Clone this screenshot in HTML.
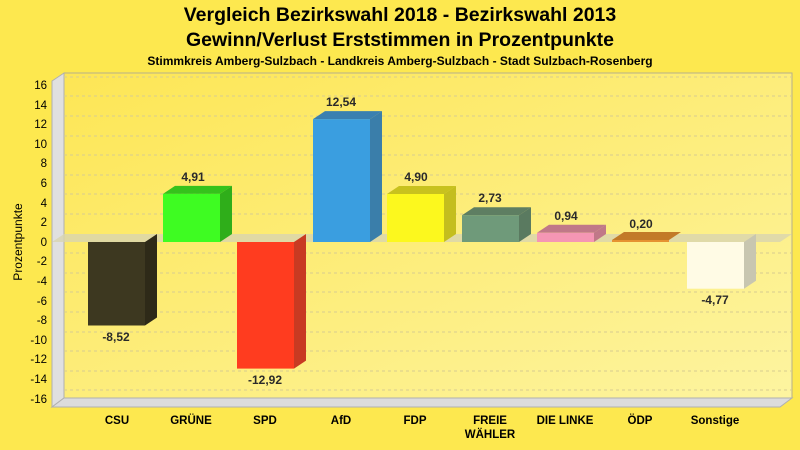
<!DOCTYPE html>
<html><head><meta charset="utf-8"><style>
body{margin:0;background:#fde84f}
svg{display:block;font-family:"Liberation Sans",sans-serif}
</style></head><body>
<svg width="800" height="450" viewBox="0 0 800 450" xmlns="http://www.w3.org/2000/svg">
<defs>
<linearGradient id="bg" x1="0" y1="0" x2="1" y2="1">
<stop offset="0" stop-color="#fde655"/><stop offset="1" stop-color="#fdf4a0"/>
</linearGradient>
</defs>
<rect width="800" height="450" fill="#fde84f"/>
<text x="400" y="21" font-size="19.5" font-weight="bold" text-anchor="middle">Vergleich Bezirkswahl 2018 - Bezirkswahl 2013</text>
<text x="400" y="46" font-size="19.5" font-weight="bold" text-anchor="middle">Gewinn/Verlust Erststimmen in Prozentpunkte</text>
<text x="400" y="65" font-size="12" font-weight="bold" text-anchor="middle">Stimmkreis Amberg-Sulzbach - Landkreis Amberg-Sulzbach - Stadt Sulzbach-Rosenberg</text>
<rect x="64" y="73" width="728" height="325" fill="url(#bg)" stroke="#b8b08a" stroke-width="1"/>
<polygon points="52,81 64,73 64,398 52,407" fill="#e0e0e0" stroke="#b0b0b0"/>
<polygon points="52,407 64,398 792,398 780,407" fill="#dcdcdc" stroke="#b0b0b0"/>
<g stroke="#d8cc90" stroke-dasharray="3,3" stroke-width="1">
<line x1="64" y1="77" x2="792" y2="77"/><line x1="64" y1="96" x2="792" y2="96"/><line x1="64" y1="116" x2="792" y2="116"/><line x1="64" y1="136" x2="792" y2="136"/><line x1="64" y1="155" x2="792" y2="155"/><line x1="64" y1="175" x2="792" y2="175"/><line x1="64" y1="194" x2="792" y2="194"/><line x1="64" y1="214" x2="792" y2="214"/><line x1="64" y1="253" x2="792" y2="253"/><line x1="64" y1="273" x2="792" y2="273"/><line x1="64" y1="292" x2="792" y2="292"/><line x1="64" y1="312" x2="792" y2="312"/><line x1="64" y1="332" x2="792" y2="332"/><line x1="64" y1="351" x2="792" y2="351"/><line x1="64" y1="371" x2="792" y2="371"/><line x1="64" y1="390" x2="792" y2="390"/>
</g>
<polygon points="52,242 64,234 792,234 780,242" fill="#d8d4b0" opacity="0.8"/>
<g font-size="11.5" text-anchor="end" fill="#000">
<text x="47" y="89">16</text><text x="47" y="109">14</text><text x="47" y="128">12</text><text x="47" y="148">10</text><text x="47" y="167">8</text><text x="47" y="187">6</text><text x="47" y="207">4</text><text x="47" y="226">2</text><text x="47" y="246">0</text><text x="47" y="265">-2</text><text x="47" y="285">-4</text><text x="47" y="305">-6</text><text x="47" y="324">-8</text><text x="47" y="344">-10</text><text x="47" y="363">-12</text><text x="47" y="383">-14</text><text x="47" y="403">-16</text>
</g>
<text transform="translate(22,242) rotate(-90)" font-size="12" text-anchor="middle">Prozentpunkte</text>
<polygon points="145,242 157,234 157,317.5 145,325.5" fill="#2e2a18"/>
<rect x="88" y="242" width="57" height="83.5" fill="#3d3820"/>
<polygon points="163,193.9 175,185.9 232,185.9 220,193.9" fill="#35c21c"/>
<polygon points="220,193.9 232,185.9 232,234 220,242" fill="#2fae1a"/>
<rect x="163" y="193.9" width="57" height="48.1" fill="#3efc22"/>
<polygon points="294,242 306,234 306,360.6 294,368.6" fill="#c83a22"/>
<rect x="237" y="242" width="57" height="126.6" fill="#ff3c1f"/>
<polygon points="313,119.1 325,111.1 382,111.1 370,119.1" fill="#3a80b0"/>
<polygon points="370,119.1 382,111.1 382,234 370,242" fill="#3a7eaa"/>
<rect x="313" y="119.1" width="57" height="122.9" fill="#3a9ee0"/>
<polygon points="387,194 399,186 456,186 444,194" fill="#c8c21e"/>
<polygon points="444,194 456,186 456,234 444,242" fill="#c4be1e"/>
<rect x="387" y="194" width="57" height="48" fill="#fcf81e"/>
<polygon points="462,215.2 474,207.2 531,207.2 519,215.2" fill="#5e7e62"/>
<polygon points="519,215.2 531,207.2 531,234 519,242" fill="#5a7a60"/>
<rect x="462" y="215.2" width="57" height="26.8" fill="#6f9a7a"/>
<polygon points="537,232.8 549,224.8 606,224.8 594,232.8" fill="#c07888"/>
<polygon points="594,232.8 606,224.8 606,234 594,242" fill="#c07888"/>
<rect x="537" y="232.8" width="57" height="9.2" fill="#f596b4"/>
<polygon points="612,240 624,232 681,232 669,240" fill="#c27a28"/>
<rect x="612" y="240" width="57" height="2" fill="#e59231"/>
<polygon points="744,242 756,234 756,280.7 744,288.7" fill="#c8c6b0"/>
<rect x="687" y="242" width="57" height="46.7" fill="#fffbe5"/>
<g font-size="12" font-weight="bold" fill="#2a2a2a" text-anchor="middle">
<text x="116" y="341">-8,52</text>
<text x="193" y="181">4,91</text>
<text x="265" y="384">-12,92</text>
<text x="341" y="106">12,54</text>
<text x="416" y="181">4,90</text>
<text x="490" y="202">2,73</text>
<text x="566" y="220">0,94</text>
<text x="641" y="228">0,20</text>
<text x="715" y="304">-4,77</text>
</g>
<g font-size="11.5" font-weight="bold" fill="#000" text-anchor="middle">
<text x="117" y="424">CSU</text>
<text x="191" y="424">GRÜNE</text>
<text x="265" y="424">SPD</text>
<text x="341" y="424">AfD</text>
<text x="415" y="424">FDP</text>
<text x="490" y="424">FREIE</text>
<text x="490" y="438">WÄHLER</text>
<text x="565" y="424">DIE LINKE</text>
<text x="640" y="424">ÖDP</text>
<text x="715" y="424">Sonstige</text>
</g>
</svg>
</body></html>
